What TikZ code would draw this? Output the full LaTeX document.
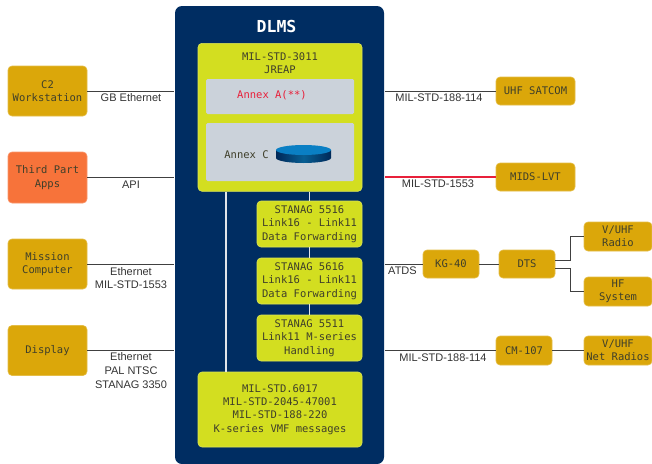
\documentclass[tikz,border=0pt]{standalone}
\usepackage{fontspec}
\setmainfont{Liberation Sans}
\setmonofont{DejaVu Sans Mono}
\usetikzlibrary{arrows.meta, positioning, calc}
\definecolor{cnavy}{HTML}{002D62}
\definecolor{clime}{HTML}{D3DE20}
\definecolor{cgold}{HTML}{DBA70A}
\definecolor{corange}{HTML}{F7733A}
\definecolor{cpanel}{HTML}{CBD2DA}
\definecolor{cred}{HTML}{E8203A}
\definecolor{cdisk}{HTML}{0A7FC4}
\definecolor{cline}{HTML}{404040}
\definecolor{ctext}{HTML}{3F3F2A}
\tikzset{
  every picture/.style={line width=1.2pt},
  mono/.style={font=\ttfamily\fontsize{10.5}{13.4}\selectfont},
  box/.style={draw=#1!75!white, fill=#1, line width=0.6pt, rounded corners=4pt, align=center, inner sep=0pt,
    text=ctext, mono},
  box/.default=cgold,
  panel/.style={fill=cpanel, rounded corners=1.5pt, inner sep=0pt, mono},
  link/.style={draw=cline, line width=1pt},
  redlink/.style={draw=cred, line width=1.3pt},
  bus/.style={draw=cpanel!60!white, line width=1.6pt},
  note/.style={font=\fontsize{11}{13.6}\selectfont, text=black!80, align=center, inner sep=0pt},
}
\begin{document}
\begin{tikzpicture}[x=1pt, y=-1pt]
  \useasboundingbox (0,0) rectangle (652,463);
  % main block
  \node[fill=cnavy, rounded corners=7pt, minimum width=209pt, minimum height=458pt, inner sep=0pt] (dlms) at (279.5,235) {};
  \node[text=white, font=\ttfamily\bfseries\fontsize{16.5}{18}\selectfont, inner sep=0pt] (title) at (276.5,26) {DLMS};
  \node[box=clime, minimum width=164pt, minimum height=148pt, anchor=north] (jreap) at (280,43) {};
  \node[text=ctext, mono, align=center, inner sep=0pt] (jreaptxt) at (280,63) {MIL-STD-3011\\JREAP};
  \node[panel, minimum width=148pt, minimum height=35pt] (annexa) at (280,96.5) {};
  \node[text=cred, mono, inner sep=0pt] (annexatxt) at (272,95) {Annex A(**)};
  \node[panel, minimum width=148pt, minimum height=58pt] (annexc) at (280,152) {};
  \node[text=ctext, mono, inner sep=0pt] (annexctxt) at (246.5,155) {Annex C};
  % disk
  \shade[left color=cnavy!90!black, right color=cnavy!90!black, middle color=cdisk!75!black]
    (276,150) -- (276,158) arc[start angle=180, end angle=0, x radius=27.5, y radius=5] -- (331,150) -- cycle;
  \fill[cdisk] (303.5,150) ellipse[x radius=27.5, y radius=5];
  % internal nodes
  \foreach \n/\y/\h in {s5516/224/STANAG 5516\\Link16 - Link11\\Data Forwarding, s5616/281/STANAG 5616\\Link16 - Link11\\Data Forwarding, s5511/338/STANAG 5511\\Link11 M-series\\Handling} {
    \node[box=clime, minimum width=105pt, minimum height=46pt] (\n) at (309.5,\y) {\h};
  }
  \node[box=clime, minimum width=164pt, minimum height=75pt] (vmf) at (280,409.5) {MIL-STD.6017\\MIL-STD-2045-47001\\MIL-STD-188-220\\K-series VMF messages};
  \coordinate (busa) at (226,200);
  \draw[bus] (jreap.south -| busa) -- (vmf.north -| busa);
  \draw[bus] (jreap.south -| s5516) -- (s5516.north);
  \draw[bus] (s5516.south) -- (s5616.north);
  \draw[bus] (s5616.south) -- (s5511.north);
  % left column
  \node[box, minimum width=79pt, minimum height=50pt] (c2) at (47.5,91) {C2\\Workstation};
  \node[box=corange, minimum width=79pt, minimum height=51pt] (apps) at (47.5,177.5) {Third Part\\Apps};
  \node[box, minimum width=79pt, minimum height=50pt] (mission) at (47.5,264) {Mission\\Computer};
  \node[box, minimum width=79pt, minimum height=50pt] (display) at (47.5,350.5) {Display};
  \foreach \n in {c2, apps, mission, display} {
    \draw[link] (\n) -- (\n -| dlms.west);
  }
  \node[note] (lgb) at (131,98) {GB Ethernet};
  \node[note] (lapi) at (131,185) {API};
  \node[note] (lmission) at (131,278) {Ethernet\\MIL-STD-1553};
  \node[note] (ldisplay) at (131,370.5) {Ethernet\\PAL NTSC\\STANAG 3350};
  % right side
  \node[box, minimum width=79pt, minimum height=28pt] (satcom) at (535.5,91) {UHF SATCOM};
  \node[box, minimum width=79pt, minimum height=28pt] (mids) at (535.5,177) {MIDS-LVT};
  \node[box, minimum width=56pt, minimum height=28pt] (kg) at (451,264) {KG-40};
  \node[box, minimum width=56pt, minimum height=28pt] (dts) at (527,264) {DTS};
  \node[box, minimum width=68pt, minimum height=29pt] (radio) at (618,236.5) {V/UHF\\Radio};
  \node[box, minimum width=68pt, minimum height=29pt] (hf) at (618,291.5) {HF\\System};
  \node[box, minimum width=56pt, minimum height=29pt] (cm) at (524,350.5) {CM-107};
  \node[box, minimum width=68pt, minimum height=29pt] (net) at (618,350.5) {V/UHF\\Net Radios};
  \draw[link] (satcom) -- (satcom -| dlms.east);
  \draw[redlink] (mids) -- (mids -| dlms.east);
  \draw[link] (kg) -- (kg -| dlms.east);
  \draw[link] (kg) -- (dts);
  \draw[link] ($(dts.east)+(0,-4)$) -| ($(radio.west)+(-13,0)$) -- (radio.west);
  \draw[link] ($(dts.east)+(0,4.5)$) -| ($(hf.west)+(-13,0)$) -- (hf.west);
  \draw[link] (cm) -- (cm -| dlms.east);
  \draw[link] (cm) -- (net);
  \node[note] (lsatcom) at (439,98) {MIL-STD-188-114};
  \node[note] (lmids) at (438,184) {MIL-STD-1553};
  \node[note] (latds) at (402.5,271) {ATDS};
  \node[note] (lcm) at (443,358) {MIL-STD-188-114};
\end{tikzpicture}
\end{document}
